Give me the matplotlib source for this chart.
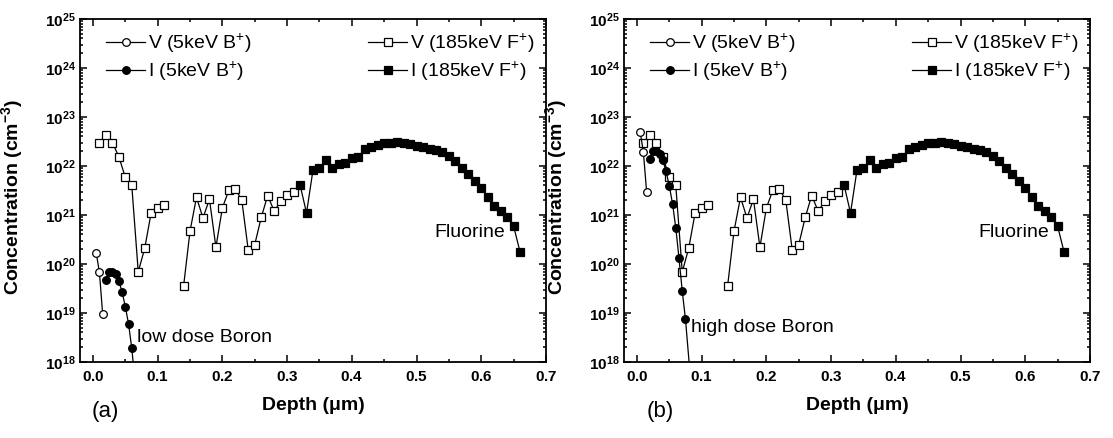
import numpy as np
import matplotlib
matplotlib.use("Agg")
import matplotlib.pyplot as plt
from matplotlib.lines import Line2D
from matplotlib.ticker import MultipleLocator, LogLocator, FuncFormatter, NullFormatter

plt.rcParams["font.family"] = ["Liberation Sans", "DejaVu Sans"]
plt.rcParams["mathtext.fontset"] = "custom"
plt.rcParams["mathtext.rm"] = "Liberation Sans"
plt.rcParams["mathtext.it"] = "Liberation Sans:italic"
plt.rcParams["mathtext.bf"] = "Liberation Sans:bold"

# ---- data (depth in um, concentration in cm^-3) ----
# 185 keV F+ implant: vacancy-rich near-surface region and interstitial-rich deep region
depth_vf_near = [0.01, 0.02, 0.03, 0.04, 0.05, 0.06, 0.07, 0.08, 0.09, 0.10, 0.11]
v_f_near = [3.0e22, 4.3e22, 3.0e22, 1.55e22, 5.9e21, 4.0e21, 6.9e19, 2.1e20, 1.12e21, 1.41e21, 1.58e21]

depth_vf_deep = [0.14, 0.15, 0.16, 0.17, 0.18, 0.19, 0.20, 0.21, 0.22, 0.23, 0.24, 0.25,
                 0.26, 0.27, 0.28, 0.29, 0.30, 0.31]
v_f_deep = [3.5e19, 4.7e20, 2.3e21, 8.7e20, 2.1e21, 2.2e20, 1.4e21, 3.2e21, 3.4e21, 2.0e21,
            1.9e20, 2.5e20, 8.9e20, 2.5e21, 1.2e21, 1.9e21, 2.6e21, 2.9e21]

depth_if = [0.32, 0.33, 0.34, 0.35, 0.36, 0.37, 0.38, 0.39, 0.40, 0.41, 0.42, 0.43,
            0.44, 0.45, 0.46, 0.47, 0.48, 0.49, 0.50, 0.51, 0.52, 0.53, 0.54, 0.55,
            0.56, 0.57, 0.58, 0.59, 0.60, 0.61, 0.62, 0.63, 0.64, 0.65, 0.66]
i_f = [4.1e21, 1.1e21, 8.3e21, 8.9e21, 1.32e22, 8.9e21, 1.12e22, 1.17e22, 1.48e22, 1.55e22,
       2.19e22, 2.45e22, 2.69e22, 2.88e22, 2.95e22, 3.02e22, 2.95e22, 2.82e22, 2.57e22,
       2.40e22, 2.19e22, 2.14e22, 1.9e22, 1.58e22, 1.26e22, 8.9e21, 6.9e21, 5.0e21,
       3.5e21, 2.3e21, 1.5e21, 1.2e21, 9.3e20, 5.9e20, 1.74e20]

# 5 keV B+ implant, low dose (a)
depth_vb_low = [0.005, 0.010, 0.015]
v_b_low = [1.7e20, 6.8e19, 9.5e18]
depth_ib_low = [0.020, 0.025, 0.030, 0.035, 0.040, 0.045, 0.050, 0.055, 0.060, 0.065]
i_b_low = [4.7e19, 6.8e19, 6.9e19, 6.2e19, 4.5e19, 2.7e19, 1.35e19, 6.0e18, 1.9e18, 4.0e17]

# 5 keV B+ implant, high dose (b)
depth_vb_high = [0.005, 0.010, 0.015]
v_b_high = [5.0e22, 1.9e22, 2.9e21]
depth_ib_high = [0.020, 0.025, 0.030, 0.035, 0.040, 0.045, 0.050, 0.055, 0.060, 0.065,
                 0.070, 0.075, 0.085]
i_b_high = [1.38e22, 2.0e22, 2.05e22, 1.75e22, 1.3e22, 7.8e21, 3.9e21, 1.7e21, 5.5e20,
            1.3e20, 2.8e19, 7.4e18, 2.0e17]

labels_b = ["V (5keV B$^{+}$)", "I (5keV B$^{+}$)"]
labels_f = ["V (185keV F$^{+}$)", "I (185keV F$^{+}$)"]
panel_tags = ["(a)", "(b)"]
boron_notes = ["low dose Boron", "high dose Boron"]

W, H = 1113, 438
fig = plt.figure(figsize=(W / 100, H / 100), dpi=100)

LW = 0.9
MS = 5.5
MEW = 0.9
style_v_b = dict(color="k", lw=LW, marker="o", mfc="white", mec="k", ms=MS, mew=MEW)
style_i_b = dict(color="k", lw=LW, marker="o", mfc="k", mec="k", ms=MS, mew=MEW)
style_v_f = dict(color="k", lw=LW, marker="s", mfc="white", mec="k", ms=MS - 0.3, mew=MEW)
style_i_f = dict(color="k", lw=LW, marker="s", mfc="k", mec="k", ms=MS - 0.3, mew=MEW)


def pow_fmt(v, _):
    return r"$\mathbf{10^{%d}}$" % int(round(np.log10(v)))


def dec_fmt(v, _):
    return r"$\mathbf{%.1f}$" % v


def draw_panel(ax, dvb, vb, dib, ib, note, note_xy, tag, tag_x):
    ax.set_yscale("log")
    ax.plot(depth_vf_near, v_f_near, **style_v_f, zorder=3)
    ax.plot(depth_vf_deep, v_f_deep, **style_v_f, zorder=3)
    ax.plot(depth_if, i_f, **style_i_f, zorder=3)
    ax.plot(dvb, vb, **style_v_b, zorder=4)
    ax.plot(dib, ib, **style_i_b, zorder=4)

    ax.set_xlim(-0.02, 0.7)
    ax.set_ylim(1e18, 1e25)

    ax.xaxis.set_major_locator(MultipleLocator(0.1))
    ax.xaxis.set_minor_locator(MultipleLocator(0.05))
    ax.xaxis.set_major_formatter(FuncFormatter(dec_fmt))
    ax.yaxis.set_major_locator(LogLocator(base=10, numticks=20))
    ax.yaxis.set_minor_locator(LogLocator(base=10, subs=np.arange(2, 10), numticks=20))
    ax.yaxis.set_major_formatter(FuncFormatter(pow_fmt))
    ax.yaxis.set_minor_formatter(NullFormatter())
    ax.tick_params(which="both", direction="in", top=True, right=True, width=1.1)
    ax.tick_params(which="major", length=5)
    ax.tick_params(which="minor", length=2.5)
    ax.tick_params(axis="x", which="major", labelsize=11, pad=6)
    ax.tick_params(axis="y", which="major", labelsize=11, pad=3)
    for s in ax.spines.values():
        s.set_linewidth(1.3)

    ax.set_xlabel("Depth (μm)", fontsize=14, fontweight="bold", labelpad=9)
    ax.set_ylabel("Concentration (cm$^{\\mathbf{-3}}$)", fontsize=14, fontweight="bold")
    ax.yaxis.set_label_coords(-0.118, 0.48)

    hb = [Line2D([], [], **style_v_b), Line2D([], [], **style_i_b)]
    hf = [Line2D([], [], **style_v_f), Line2D([], [], **style_i_f)]
    common = dict(frameon=False, fontsize=14, borderpad=0, borderaxespad=0,
                  handlelength=2.0, handletextpad=0.15, labelspacing=0.25)
    leg1 = ax.legend(hb, labels_b, loc="upper left", bbox_to_anchor=(0.056, 0.962), **common)
    ax.add_artist(leg1)
    ax.legend(hf, labels_f, loc="upper right", bbox_to_anchor=(0.975, 0.962), **common)

    ax.text(0.637, 10 ** 20.65, "Fluorine", fontsize=14, ha="right", va="center")
    ax.text(note_xy[0], note_xy[1], note, fontsize=14, ha="left", va="center")
    fig.text(tag_x, 1 - 412 / H, tag, fontsize=16, ha="center", va="center")


ax_a = fig.add_axes([80 / W, 1 - 362 / H, 466 / W, 343 / H])
ax_b = fig.add_axes([624 / W, 1 - 362 / H, 466 / W, 343 / H])

draw_panel(ax_a, depth_vb_low, v_b_low, depth_ib_low, i_b_low,
           boron_notes[0], (0.068, 10 ** 18.5), panel_tags[0], 105 / W)
draw_panel(ax_b, depth_vb_high, v_b_high, depth_ib_high, i_b_high,
           boron_notes[1], (0.084, 10 ** 18.7), panel_tags[1], 660 / W)

fig.savefig("out.png", dpi=100)
